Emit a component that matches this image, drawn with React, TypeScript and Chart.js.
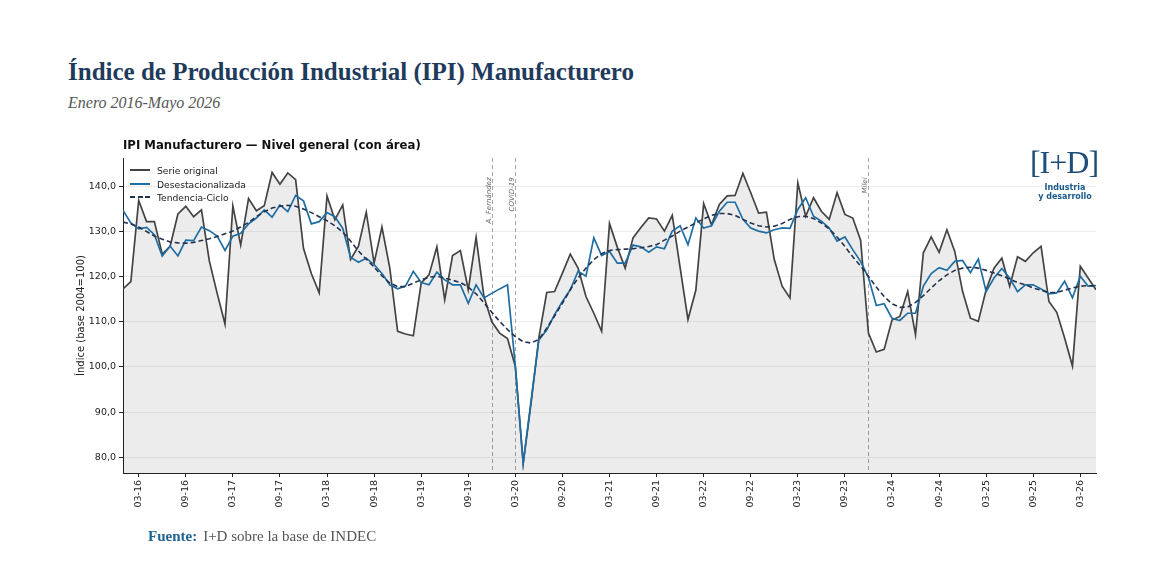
import React, { useEffect, useRef } from "react";
import { Chart, registerables } from "chart.js";

Chart.register(...registerables);

// ---- Categories (monthly, Jan 2016 - May 2026) ----
const START_YEAR = 2016;
const N_MONTHS = 125;
const months: string[] = Array.from({ length: N_MONTHS }, (_, i) => {
  const m = (i % 12) + 1;
  const y = START_YEAR + Math.floor(i / 12);
  return `${String(m).padStart(2, "0")}-${String(y % 100).padStart(2, "0")}`;
});
const tickMonths = ["03", "09"];

// ---- Series ----
const serieOriginal = [
  117.3, 118.9, 136.9, 132.2, 132.2, 125.0, 126.7, 133.9, 135.6, 133.3, 134.8, 123.5,
  116.3, 109.5, 135.7, 127.0, 137.3, 134.6, 135.7, 143.1, 140.5, 143.0, 141.5, 126.3,
  120.7, 116.4, 137.9, 132.6, 135.9, 123.8, 126.7, 134.3, 123.0, 131.0, 121.9, 107.9,
  107.3, 106.9, 118.6, 120.4, 126.6, 114.9, 124.7, 125.8, 117.1, 128.7, 115.6, 110.0,
  107.5, 106.3, 100.1, 78.6, 91.9, 106.5, 116.5, 116.7, 120.8, 125.0, 121.9, 115.6,
  111.9, 107.9, 131.8, 126.5, 121.9, 128.6, 130.9, 133.0, 132.8, 130.1, 133.6, 122.0,
  110.5, 117.0, 136.2, 131.5, 136.0, 137.9, 138.0, 142.9, 138.6, 134.1, 134.3, 123.8,
  117.9, 115.3, 140.8, 133.4, 137.5, 134.5, 132.7, 138.6, 133.8, 133.0, 128.1, 107.5,
  103.3, 103.9, 110.4, 111.2, 116.7, 107.1, 125.3, 128.8, 125.4, 130.4, 125.6, 116.7,
  110.8, 110.1, 117.1, 121.9, 124.1, 117.9, 124.4, 123.4, 125.3, 126.7, 114.5, 112.1,
  106.4, 100.2, 122.3, 119.7, 117.1,
];

const desestacionalizada = [
  134.7, 131.9, 130.6, 130.9, 129.3, 124.6, 126.8, 124.6, 128.1, 128.0, 131.0, 130.2,
  129.0, 125.8, 129.0, 129.6, 131.7, 133.0, 134.8, 133.2, 135.9, 134.4, 138.0, 136.8,
  131.7, 132.2, 134.2, 133.3, 130.7, 124.3, 123.2, 124.1, 122.7, 120.7, 118.2, 117.3,
  117.9, 121.2, 118.7, 118.2, 121.0, 119.3, 118.2, 118.2, 114.1, 118.2, 115.3, 116.3,
  117.3, 118.2, 100.1, 78.7, 92.5, 106.0, 108.2, 111.6, 114.5, 117.1, 121.2, 120.1,
  128.6, 124.7, 125.6, 123.0, 123.0, 127.0, 126.6, 125.4, 126.6, 126.2, 130.1, 131.3,
  127.1, 133.0, 130.8, 131.3, 134.5, 136.5, 136.5, 132.7, 130.8, 130.1, 129.7, 130.4,
  130.8, 130.7, 134.9, 137.5, 133.4, 132.3, 130.8, 127.9, 128.8, 126.0, 123.4, 119.8,
  113.6, 114.0, 110.8, 110.3, 111.9, 111.9, 117.9, 120.7, 122.0, 121.4, 123.4, 123.6,
  120.9, 123.9, 116.7, 119.7, 121.8, 119.7, 116.7, 118.2, 118.2, 117.3, 116.2, 116.4,
  119.0, 115.3, 120.1, 117.9, 118.0,
];

const tendenciaCiclo = [
  132.1, 131.7, 131.0, 130.0, 129.0, 128.3, 127.7, 127.5, 127.4, 127.6, 128.0, 128.4,
  128.9, 129.5, 130.1, 131.0, 132.0, 133.3, 134.4, 135.2, 135.6, 135.8, 135.6, 135.0,
  134.2, 133.3, 132.4, 131.3, 129.9, 127.9, 125.7, 123.9, 122.1, 120.2, 118.6, 117.8,
  117.8, 118.6, 119.3, 119.9, 120.1, 119.7, 119.2, 118.7, 117.7, 116.2, 114.2, 112.1,
  110.1, 108.3, 106.7, 105.6, 105.3, 106.1, 108.6, 111.3, 114.1, 117.1, 119.7, 121.9,
  123.8, 125.1, 125.8, 126.0, 126.1, 126.2, 126.4, 126.7, 127.1, 128.1, 129.0, 130.1,
  131.0, 131.9, 132.8, 133.6, 134.0, 134.0, 133.6, 132.7, 131.9, 131.3, 131.0, 131.2,
  131.8, 132.7, 133.3, 133.4, 132.9, 131.9, 130.6, 128.8, 126.7, 124.4, 122.4, 120.1,
  117.7, 115.6, 114.0, 113.2, 113.3, 114.3, 115.8, 117.5, 119.1, 120.4, 121.4, 121.9,
  122.1, 121.9, 121.4, 120.8, 120.2, 119.5, 118.7, 118.2, 117.5, 117.0, 116.5, 116.5,
  117.0, 117.5, 117.9, 118.0, 118.0,
];

const yTickValues = [80, 90, 100, 110, 120, 130, 140];

// ---- Events ----
const eventLabels = ["A. Fernández", "COVID-19", "Milei"];
const eventMonths = ["12-19", "03-20", "12-23"];

const seriesNames = ["Serie original", "Desestacionalizada", "Tendencia-Ciclo"];
const COLORS = {
  original: "#434343",
  desest: "#1f6ea3",
  trend: "#25324f",
  title: "#1f3b5c",
};

const eventsPlugin = {
  id: "eventsPlugin",
  beforeDatasetsDraw(chart: any) {
    const { ctx, chartArea, scales } = chart;
    const xs = scales.x;
    const ys = scales.y;
    eventMonths.forEach((m, k) => {
      const idx = months.indexOf(m);
      if (idx < 0) return;
      const x = Math.round(xs.getPixelForValue(idx)) + 0.5;
      ctx.save();
      ctx.strokeStyle = "#a8a8a8";
      ctx.lineWidth = 1;
      ctx.setLineDash([4, 3]);
      ctx.beginPath();
      ctx.moveTo(x, chartArea.top);
      ctx.lineTo(x, chartArea.bottom);
      ctx.stroke();
      ctx.setLineDash([]);
      ctx.translate(x - 3.6, ys.getPixelForValue(142.0));
      ctx.rotate(-Math.PI / 2);
      ctx.fillStyle = "#666666";
      ctx.font = "italic 7px 'DejaVu Sans'";
      ctx.textAlign = "right";
      ctx.textBaseline = "middle";
      ctx.fillText(eventLabels[k], 0, 0);
      ctx.restore();
    });
  },
};

function fmt(v: number) {
  return v.toFixed(1).replace(".", ",");
}

export default function App() {
  const canvasRef = useRef<HTMLCanvasElement | null>(null);

  useEffect(() => {
    if (!canvasRef.current) return;
    const tickIdx = months
      .map((m, i) => (tickMonths.includes(m.slice(0, 2)) ? i : -1))
      .filter((i) => i >= 0);
    const toXY = (arr: number[]) => arr.map((v, i) => ({ x: i, y: v }));

    const chart = new Chart(canvasRef.current, {
      type: "line",
      data: {
        datasets: [
          {
            label: seriesNames[0],
            data: toXY(serieOriginal),
            borderColor: COLORS.original,
            borderWidth: 1.7,
            backgroundColor: "rgba(0,0,0,0.075)",
            fill: "start",
            pointRadius: 0,
            tension: 0,
            order: 3,
          },
          {
            label: seriesNames[1],
            data: toXY(desestacionalizada),
            borderColor: COLORS.desest,
            borderWidth: 1.7,
            fill: false,
            pointRadius: 0,
            tension: 0,
            order: 2,
          },
          {
            label: seriesNames[2],
            data: toXY(tendenciaCiclo),
            borderColor: COLORS.trend,
            borderWidth: 1.6,
            borderDash: [5, 3],
            fill: false,
            pointRadius: 0,
            tension: 0,
            order: 1,
          },
        ],
      },
      options: {
        responsive: false,
        animation: false,
        devicePixelRatio: 1,
        layout: { padding: { left: 73, right: 60, top: 158, bottom: 38 } },
        plugins: {
          legend: { display: false },
          tooltip: { enabled: false },
          title: { display: false },
        },
        scales: {
          x: {
            type: "linear",
            min: 0,
            max: N_MONTHS - 1,
            afterBuildTicks: (s: any) => {
              s.ticks = tickIdx.map((v) => ({ value: v }));
            },
            afterFit: (s: any) => {
              s.height = 50;
            },
            grid: {
              display: true,
              drawOnChartArea: false,
              drawTicks: true,
              tickLength: 4,
              tickColor: "#222",
            },
            border: { display: true, color: "#222", width: 1 },
            ticks: {
              autoSkip: false,
              maxRotation: 90,
              minRotation: 90,
              padding: 3,
              color: "#222",
              font: { family: "'DejaVu Sans'", size: 9.5 },
              callback: (v: any) => months[v] ?? "",
            },
          },
          y: {
            type: "linear",
            min: 76.5,
            max: 146.3,
            afterBuildTicks: (s: any) => {
              s.ticks = yTickValues.map((v) => ({ value: v }));
            },
            afterFit: (s: any) => {
              s.width = 50;
            },
            grid: {
              color: "rgba(0,0,0,0.07)",
              tickColor: "#222",
              tickLength: 4,
            },
            border: { display: true, color: "#222", width: 1 },
            ticks: {
              padding: 3,
              color: "#222",
              font: { family: "'DejaVu Sans'", size: 9.5 },
              callback: (v: any) => fmt(Number(v)),
            },
            title: {
              display: true,
              text: "Índice (base 2004=100)",
              color: "#222",
              font: { family: "'DejaVu Sans'", size: 10 },
              padding: { top: 2, bottom: 0 },
            },
          },
        },
      },
      plugins: [eventsPlugin],
    });
    return () => chart.destroy();
  }, []);

  const legendItem = (name: string, color: string, dashed: boolean, top: number) => (
    <div
      key={name}
      style={{ position: "absolute", left: 130, top, height: 12, display: "flex", alignItems: "center" }}
    >
      {dashed ? (
        <div style={{ width: 20, height: 2, display: "flex", justifyContent: "space-between" }}>
          <div style={{ width: 5, height: 2, background: color }} />
          <div style={{ width: 5, height: 2, background: color }} />
          <div style={{ width: 5, height: 2, background: color }} />
        </div>
      ) : (
        <div style={{ width: 20, height: 2, background: color }} />
      )}
      <span
        style={{
          marginLeft: 7,
          fontFamily: "'DejaVu Sans'",
          fontSize: 9.2,
          color: "#222",
          whiteSpace: "nowrap",
        }}
      >
        {name}
      </span>
    </div>
  );

  return (
    <div
      style={{
        position: "fixed",
        left: 0,
        top: 0,
        width: 1156,
        height: 561,
        background: "#ffffff",
        overflow: "hidden",
      }}
    >
      <div
        style={{
          position: "absolute",
          left: 68,
          top: 57,
          fontFamily: "'Liberation Serif', serif",
          fontWeight: 700,
          fontSize: 25,
          lineHeight: "30px",
          color: COLORS.title,
          whiteSpace: "nowrap",
        }}
      >
        Índice de Producción Industrial (IPI) Manufacturero
      </div>
      <div
        style={{
          position: "absolute",
          left: 68,
          top: 93,
          fontFamily: "'Liberation Serif', serif",
          fontStyle: "italic",
          fontSize: 16,
          lineHeight: "20px",
          color: "#555",
          whiteSpace: "nowrap",
        }}
      >
        Enero 2016-Mayo 2026
      </div>
      <canvas
        ref={canvasRef}
        width={1156}
        height={561}
        style={{ position: "absolute", left: 0, top: 0, width: 1156, height: 561 }}
      />
      <div
        style={{
          position: "absolute",
          left: 123,
          top: 137,
          fontFamily: "'DejaVu Sans'",
          fontWeight: 700,
          fontSize: 11.7,
          lineHeight: "16px",
          color: "#111",
          whiteSpace: "nowrap",
        }}
      >
        IPI Manufacturero — Nivel general (con área)
      </div>
      {legendItem(seriesNames[0], COLORS.original, false, 164)}
      {legendItem(seriesNames[1], COLORS.desest, false, 178)}
      {legendItem(seriesNames[2], COLORS.trend, true, 191)}
      <div
        style={{
          position: "absolute",
          left: 1019,
          width: 90,
          top: 145,
          textAlign: "center",
          fontFamily: "'Liberation Serif', serif",
          fontSize: 32,
          lineHeight: "34px",
          letterSpacing: -1,
          color: "#1f4e79",
          whiteSpace: "nowrap",
        }}
      >
        [I+D]
      </div>
      <div
        style={{
          position: "absolute",
          left: 1020,
          width: 90,
          top: 184,
          textAlign: "center",
          fontFamily: "'DejaVu Sans'",
          fontWeight: 700,
          fontSize: 8,
          lineHeight: "8.5px",
          color: "#1c5a8a",
          whiteSpace: "nowrap",
        }}
      >
        Industria
        <br />y desarrollo
      </div>
      <div
        style={{
          position: "absolute",
          left: 148,
          top: 527,
          fontFamily: "'Liberation Serif', serif",
          fontSize: 15,
          lineHeight: "18px",
          whiteSpace: "nowrap",
        }}
      >
        <span style={{ color: "#1f6391", fontWeight: 700 }}>Fuente:</span>
        <span style={{ color: "#555", marginLeft: 6 }}>I+D sobre la base de INDEC</span>
      </div>
    </div>
  );
}
